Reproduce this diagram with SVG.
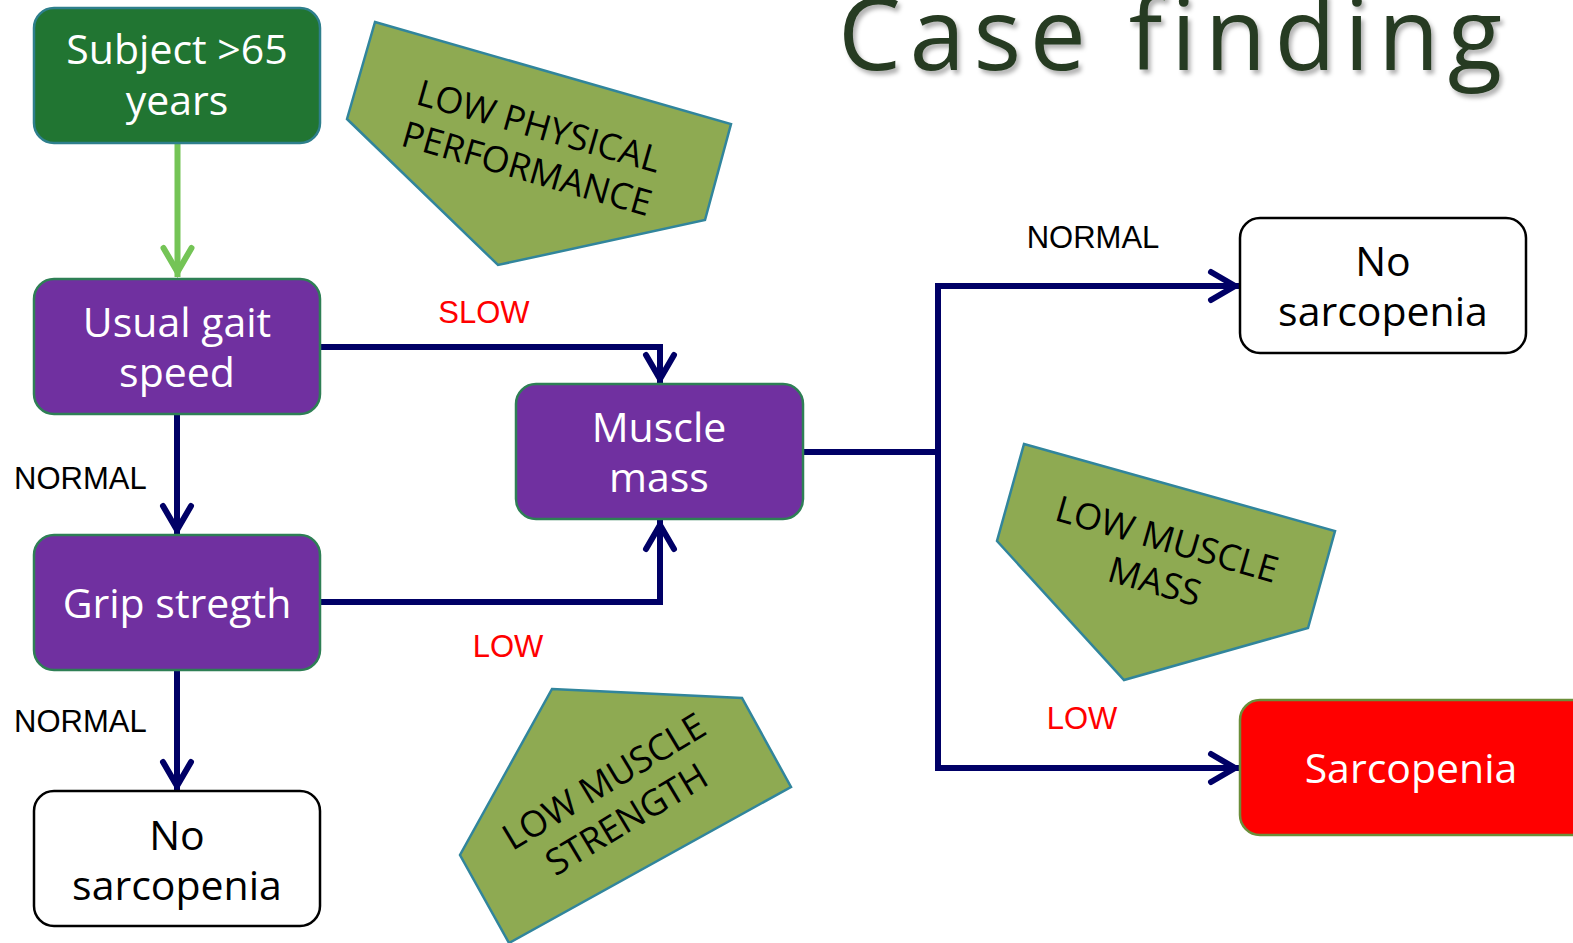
<svg xmlns="http://www.w3.org/2000/svg" width="1573" height="943" viewBox="0 0 1573 943">
<style>
.box{stroke-width:2.5}
.start{fill:#217532;stroke:#2E7F8C}
.proc{fill:#7030A0;stroke:#2E7F55}
.outw{fill:#FFFFFF;stroke:#000000}
.outr{fill:#FF0000;stroke:#6B8E3A}
.bt{font-family:"Open Sans","Liberation Sans",sans-serif;font-size:41px;text-anchor:middle;fill:#FFFFFF}
.dk{fill:#000000}
.lbl{font-family:"Liberation Sans",Arial,sans-serif;font-size:31px}
.red{fill:#FF0000}
.blk{fill:#000000}
.tag{fill:#8EAA52;stroke:#31859C;stroke-width:2.5}
.tt{font-family:"Open Sans","Liberation Sans",sans-serif;font-size:36px;text-anchor:middle;fill:#000000}
.ln{fill:none;stroke:#000066;stroke-width:6;stroke-linejoin:miter;stroke-linecap:butt}
.gl{fill:none;stroke:#74C456;stroke-width:6}
</style>
<defs>
<marker id="chev" markerUnits="userSpaceOnUse" markerWidth="50" markerHeight="50" viewBox="-40 -25 50 50" refX="0" refY="0" orient="auto" overflow="visible">
<path d="M-29,-14 L-5,0 L-29,14" fill="none" stroke="#000066" stroke-width="6" stroke-linecap="round" stroke-linejoin="miter"/>
</marker>
<marker id="chevg" markerUnits="userSpaceOnUse" markerWidth="50" markerHeight="50" viewBox="-40 -25 50 50" refX="0" refY="0" orient="auto" overflow="visible">
<path d="M-29,-14 L-5,0 L-29,14" fill="none" stroke="#74C456" stroke-width="6" stroke-linecap="round" stroke-linejoin="miter"/>
</marker>
<filter id="shadow" x="-5%" y="-20%" width="110%" height="150%">
<feDropShadow dx="3" dy="4" stdDeviation="2" flood-color="#000000" flood-opacity="0.3"/>
</filter>
</defs>
<rect width="1573" height="943" fill="#FFFFFF"/>

<g id="title">
<text x="838" y="70" font-family="'Open Sans','Liberation Sans',sans-serif" font-size="100" letter-spacing="8.5" fill="#263A21" filter="url(#shadow)">Case finding</text>
</g>

<g id="tag-physical">
<polygon class="tag" points="375,22 731,124 705,220 498,265 347,119"/>
<g transform="translate(533,147) rotate(16)">
<text class="tt" x="0" y="-9">LOW PHYSICAL</text>
<text class="tt" x="0" y="35">PERFORMANCE</text>
</g>
</g>

<g id="tag-mass">
<polygon class="tag" points="1024,444 1335,531 1308,628 1124,680 997,541"/>
<g transform="translate(1161,560) rotate(16)">
<text class="tt" x="0" y="-9">LOW MUSCLE</text>
<text class="tt" x="0" y="35">MASS</text>
</g>
</g>

<g id="tag-strength">
<polygon class="tag" points="552,689 742,698 791,787 509,943 460,855"/>
<g transform="translate(615,800) rotate(-31)">
<text class="tt" x="0" y="-9">LOW MUSCLE</text>
<text class="tt" x="0" y="35">STRENGTH</text>
</g>
</g>

<g id="connectors">
<path class="gl" d="M177.5,144 V277" marker-end="url(#chevg)"/>
<path class="ln" d="M320,347 H660 V384" marker-end="url(#chev)"/>
<path class="ln" d="M177,414 V535" marker-end="url(#chev)"/>
<path class="ln" d="M320,602 H660 V520" marker-end="url(#chev)"/>
<path class="ln" d="M177,670 V791" marker-end="url(#chev)"/>
<path class="ln" d="M802,452 H938"/>
<path class="ln" d="M938,286 V768"/>
<path class="ln" d="M935,286 H1240" marker-end="url(#chev)"/>
<path class="ln" d="M935,768 H1240" marker-end="url(#chev)"/>
</g>

<g id="labels">
<text class="lbl red" x="484" y="323" text-anchor="middle">SLOW</text>
<text class="lbl blk" x="14" y="489">NORMAL</text>
<text class="lbl blk" x="14" y="732">NORMAL</text>
<text class="lbl red" x="508" y="657" text-anchor="middle">LOW</text>
<text class="lbl blk" x="1093" y="248" text-anchor="middle">NORMAL</text>
<text class="lbl red" x="1082" y="729" text-anchor="middle">LOW</text>
</g>

<g id="node-subject">
<rect class="box start" x="34" y="8" width="286" height="135" rx="20"/>
<text class="bt" x="177" y="64">Subject &gt;65</text>
<text class="bt" x="177" y="115">years</text>
</g>

<g id="node-gait">
<rect class="box proc" x="34" y="279" width="286" height="135" rx="20"/>
<text class="bt" x="177" y="337">Usual gait</text>
<text class="bt" x="177" y="387">speed</text>
</g>

<g id="node-grip">
<rect class="box proc" x="34" y="535" width="286" height="135" rx="20"/>
<text class="bt" x="177" y="618">Grip stregth</text>
</g>

<g id="node-nosarc1">
<rect class="box outw" x="34" y="791" width="286" height="135" rx="20"/>
<text class="bt dk" x="177" y="850">No</text>
<text class="bt dk" x="177" y="900">sarcopenia</text>
</g>

<g id="node-muscle">
<rect class="box proc" x="516" y="384" width="287" height="135" rx="20"/>
<text class="bt" x="659" y="442">Muscle</text>
<text class="bt" x="659" y="492">mass</text>
</g>

<g id="node-nosarc2">
<rect class="box outw" x="1240" y="218" width="286" height="135" rx="20"/>
<text class="bt dk" x="1383" y="276">No</text>
<text class="bt dk" x="1383" y="326">sarcopenia</text>
</g>

<g id="node-sarc">
<rect class="box outr" x="1240" y="700" width="360" height="135" rx="20"/>
<text class="bt" x="1411" y="783">Sarcopenia</text>
</g>
</svg>
